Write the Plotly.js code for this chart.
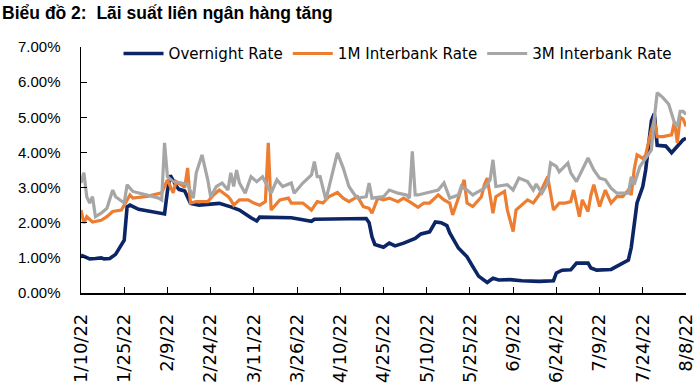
<!DOCTYPE html>
<html>
<head>
<meta charset="utf-8">
<script src="https://cdn.plot.ly/plotly-3.0.1.min.js"></script>
<style>html,body{margin:0;padding:0;background:#fff;}</style>
</head>
<body>
<div id="chart" style="width:700px;height:388px;"></div>
<script>
// Day offsets from 2022-01-10 and values (%)
const startDate = [2022, 0, 10];
const tickDays = [0,15,30,45,60,75,90,105,120,135,150,165,180,195,210];
const tickLabels = ['1/10/22','1/25/22','2/9/22','2/24/22','3/11/22','3/26/22','4/10/22','4/25/22','5/10/22','5/25/22','6/9/22','6/24/22','7/9/22','7/24/22','8/8/22'];
const yTicks = [0,1,2,3,4,5,6,7];

const overnightDay = [0,1,3,5,7,8,10,12,14,15,16,17,20,24,27,29,30,31,33,34,36,38,41,45,48,52,55,59,61,62,66,69,73,76,80,81,85,88,92,95,99,100,101,102,105,107,109,112,116,118,121,123,125,127,128,131,134,136,138,141,143,145,149,153,159,164,165,167,170,172,176,177,179,184,187,190,191,192,193,195,196,198,199,200,202,203,205,207,209,210];
const overnightRate = [1.08,1.05,0.97,0.98,1.0,0.97,0.98,1.1,1.4,1.5,2.45,2.5,2.38,2.32,2.27,2.25,2.9,3.35,3.05,2.95,2.9,2.55,2.5,2.52,2.55,2.45,2.36,2.14,2.05,2.16,2.16,2.14,2.14,2.1,2.04,2.1,2.1,2.12,2.12,2.12,2.12,2.0,1.6,1.38,1.3,1.42,1.34,1.42,1.55,1.68,1.74,2.02,2.0,1.92,1.71,1.28,1.03,0.75,0.48,0.3,0.42,0.37,0.38,0.35,0.33,0.35,0.57,0.65,0.66,0.85,0.85,0.71,0.65,0.67,0.8,0.94,1.3,2.0,2.56,3.03,3.5,4.9,5.1,4.2,4.2,4.18,3.99,4.17,4.36,4.4];

const m1Day = [0,1,2,4,7,9,11,14,15,17,18,23,28,30,32,33,35,36,37,38,40,44,46,48,51,52,53,55,58,60,62,64,65,66,69,72,73,77,80,82,84,86,89,91,93,96,98,100,101,103,105,107,110,112,114,117,119,121,124,126,128,129,131,133,134,136,139,140,141,143,144,147,148,150,151,153,155,157,159,162,164,166,168,170,171,173,174,176,177,178,180,182,184,186,188,190,191,192,193,195,196,198,199,200,202,205,206,207,208,209,210];
const m1Rate = [2.36,1.99,2.17,2.02,2.07,2.17,2.32,2.36,2.5,2.79,2.7,2.75,2.85,3.22,2.85,3.17,3.07,3.0,3.56,2.56,2.6,2.6,2.79,2.93,2.75,2.65,2.5,2.65,2.65,2.56,2.5,2.6,4.27,2.36,2.65,2.7,2.56,2.56,2.36,2.6,2.56,2.74,2.86,2.7,2.6,2.74,2.46,2.41,2.27,2.7,2.65,2.7,2.6,2.7,2.6,2.44,2.56,2.56,2.79,2.65,2.56,2.22,2.7,3.22,2.56,2.46,2.74,3.08,3.27,2.27,2.74,2.89,2.36,1.75,2.36,2.5,2.65,2.56,2.79,3.31,2.36,2.56,2.56,2.6,2.93,2.17,2.65,2.32,2.79,3.08,2.46,2.93,2.56,2.74,2.74,2.93,2.79,3.5,3.93,3.83,3.93,4.64,4.93,4.45,4.45,4.5,4.88,4.27,5.0,4.95,4.74];

const m3Day = [0,1,2,3,4,5,7,9,11,12,15,16,18,23,27,28,29,30,32,35,37,39,40,42,44,45,47,49,51,52,53,54,55,57,59,61,63,66,68,70,73,74,77,80,81,82,83,85,87,89,91,93,95,96,99,100,101,105,107,110,113,114,115,116,117,120,124,126,128,131,132,134,136,137,140,142,143,144,148,150,152,155,157,158,160,162,163,165,166,169,170,172,174,176,178,180,182,184,186,188,190,191,192,194,196,198,199,200,202,204,206,207,208,209,210];
const m3Rate = [3.13,3.42,2.74,2.56,2.74,2.17,2.27,2.41,2.93,2.74,2.56,3.08,2.89,2.79,2.7,2.65,4.27,3.31,3.17,3.13,3.1,2.7,3.42,3.93,3.22,2.74,3.03,3.13,2.93,3.42,3.03,3.5,3.13,2.84,3.31,3.17,3.31,2.84,3.22,3.03,3.13,2.84,3.13,3.36,3.74,3.31,3.31,2.65,3.31,3.99,3.56,3.03,2.79,2.7,2.74,3.13,2.7,2.74,2.93,2.84,2.79,2.7,4.03,2.79,2.79,2.84,2.93,3.13,2.7,2.79,3.03,2.93,2.79,2.84,2.98,3.22,3.79,3.03,3.08,2.93,3.27,3.17,2.93,3.1,2.84,3.13,3.7,3.6,3.45,3.7,3.42,3.17,3.5,3.84,3.5,3.27,3.22,2.98,2.84,2.84,2.84,3.31,3.08,3.6,3.84,4.07,4.97,5.7,5.56,5.37,4.84,4.74,5.17,5.17,5.08];

const seriesNames = ['Overnight Rate','1M Interbank Rate','3M Interbank Rate'];
const seriesColors = ['#0c2566','#ed7d31','#a6a6a6'];

function toDate(d) {
  const t = Date.UTC(startDate[0], startDate[1], startDate[2]) + d * 86400000;
  return new Date(t).toISOString().slice(0, 10);
}

const traces = [
  {x: overnightDay.map(toDate), y: overnightRate, name: seriesNames[0], type: 'scatter', mode: 'lines', line: {color: seriesColors[0], width: 3.6}},
  {x: m1Day.map(toDate), y: m1Rate, name: seriesNames[1], type: 'scatter', mode: 'lines', line: {color: seriesColors[1], width: 3.2}},
  {x: m3Day.map(toDate), y: m3Rate, name: seriesNames[2], type: 'scatter', mode: 'lines', line: {color: seriesColors[2], width: 3.2}}
];

const layout = {
  width: 700, height: 388,
  margin: {l: 81, r: 14, t: 47, b: 95, autoexpand: false},
  paper_bgcolor: '#fff', plot_bgcolor: '#fff',
  showlegend: true,
  title: {
    text: '<b>Biểu đồ 2:\u00a0 Lãi suất liên ngân hàng tăng</b>',
    font: {family: 'Liberation Sans, Arial, sans-serif', size: 17.5, color: '#000'},
    x: 0.003, xref: 'container', xanchor: 'left',
    y: 1 - 13/388, yref: 'container', yanchor: 'middle'
  },
  legend: {
    orientation: 'h', x: 0.062, xanchor: 'left', y: 1.04, yanchor: 'top',
    font: {family: 'DejaVu Sans, sans-serif', size: 15.1, color: '#000'},
    bgcolor: 'rgba(0,0,0,0)', itemwidth: 40, tracegroupgap: 0
  },
  xaxis: {
    type: 'date',
    range: [toDate(0), toDate(210)],
    tickmode: 'array', tickvals: tickDays.map(toDate), ticktext: tickLabels,
    tickangle: -90,
    ticks: 'inside', ticklen: 6, tickwidth: 1, tickcolor: '#000',
    showline: true, linecolor: '#000', linewidth: 1.5,
    showgrid: false, zeroline: false,
    tickfont: {family: 'DejaVu Sans, sans-serif', size: 18, color: '#000'},
    ticklabelstandoff: 12
  },
  yaxis: {
    range: [0, 7],
    tickmode: 'array', tickvals: yTicks, ticktext: yTicks.map(v => v.toFixed(2) + '%'),
    ticks: 'inside', ticklen: 6, tickwidth: 1, tickcolor: '#000',
    showline: true, linecolor: '#000', linewidth: 1.5,
    showgrid: false, zeroline: false,
    tickfont: {family: 'Liberation Sans, Arial, sans-serif', size: 15, color: '#000'},
    ticklabelstandoff: 16
  }
};

Plotly.newPlot('chart', traces, layout, {displayModeBar: false, staticPlot: true});
</script>
</body>
</html>
